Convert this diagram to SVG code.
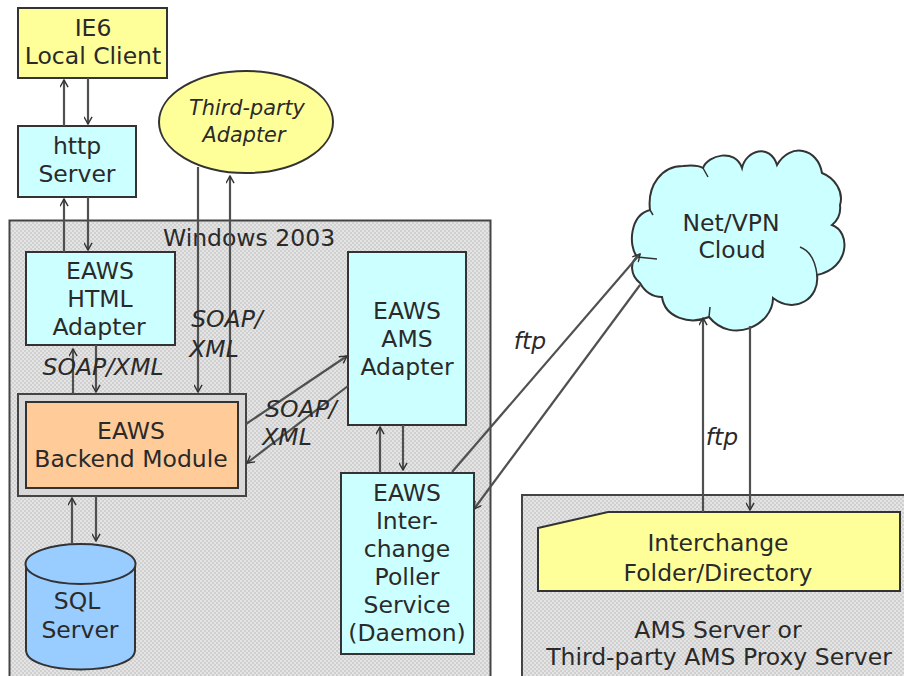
<svg xmlns="http://www.w3.org/2000/svg" width="904" height="676" viewBox="0 0 904 676">
<style>
text{font-family:"DejaVu Sans","Liberation Sans",sans-serif;font-size:23.500px;fill:#2a2a2a;text-anchor:middle}
.i{font-style:italic}
.s{font-size:20.800px}
.n{stroke:#333;stroke-width:2}
.c{fill:none;stroke:#505050;stroke-width:2.200;marker-end:url(#a)}
.p{fill:url(#d);stroke:#444;stroke-width:2}
.cy{fill:#ccffff}.ye{fill:#ffff99}
</style>
<defs>
<marker id="a" viewBox="0 0 10 10" refX="9" refY="5" markerWidth="9" markerHeight="9" orient="auto" markerUnits="userSpaceOnUse"><path d="M1,0.500 L9,5 L1,9.500" fill="none" stroke="#333" stroke-width="1.600"/></marker>
<pattern id="d" width="4" height="4" patternUnits="userSpaceOnUse"><rect width="4" height="4" fill="#d0d0d0"/><rect width="2" height="2" fill="#e4e4e4"/><rect x="2" y="2" width="2" height="2" fill="#e4e4e4"/></pattern>
</defs>
<rect width="904" height="676" fill="#fff"/>
<g id="windows"><rect class="p" x="9.500" y="220.500" width="481" height="460"/><text x="249" y="246">Windows 2003</text></g>
<g id="ams-server"><rect class="p" x="522" y="495" width="390" height="190"/><text x="718" y="638">AMS Server or</text><text x="719" y="665">Third-party AMS Proxy Server</text></g>
<g id="ie6"><rect class="n ye" x="18" y="8" width="149" height="70"/><text x="93" y="36">IE6</text><text x="93" y="64">Local Client</text></g>
<g id="http"><rect class="n cy" x="18" y="126" width="118" height="71"/><text x="77" y="154">http</text><text x="77" y="182">Server</text></g>
<g id="third-party"><ellipse class="n ye" cx="246" cy="122" rx="87" ry="51"/><text class="i s" x="247" y="115">Third-party</text><text class="i s" x="244" y="142">Adapter</text></g>
<g id="html-adapter"><rect class="n cy" x="26" y="252" width="149" height="93"/><text x="100" y="279">EAWS</text><text x="100" y="307">HTML</text><text x="99" y="335">Adapter</text></g>
<g id="backend"><rect x="18" y="394" width="228" height="102" fill="#d8d8d8" stroke="#444" stroke-width="2"/><rect class="n" x="26" y="402" width="212" height="86" fill="#ffcc99"/><text x="131" y="439">EAWS</text><text x="131" y="467">Backend Module</text></g>
<g id="sql"><path class="n" d="M26,565 V650 C26,676 135,676 135,650 V565" fill="#99ccff"/><ellipse class="n" cx="80.500" cy="564" rx="55" ry="20" fill="#99ccff"/><text x="77" y="609">SQL</text><text x="80" y="638">Server</text></g>
<g id="ams-adapter"><rect class="n cy" x="348" y="252" width="118" height="173"/><text x="407" y="319">EAWS</text><text x="407" y="347">AMS</text><text x="407" y="375">Adapter</text></g>
<g id="poller"><rect class="n cy" x="341" y="473" width="133" height="181"/><text x="407" y="501">EAWS</text><text x="407" y="529">Inter-</text><text x="407" y="557">change</text><text x="407" y="585">Poller</text><text x="407" y="613">Service</text><text x="407" y="641">(Daemon)</text></g>
<g id="cloud"><path class="n cy" stroke-width="1.500" d="M650,210 C647,185 662,166 683,166 C691,165 698,165 703,168 C708,155 735,148 742,168 C746,150 770,143 777,165 C790,142 818,148 822,173 C835,178 844,192 840,205 C841,213 838,220 832,225 C851,232 850,268 817,275 C820,298 795,315 773,298 C773,325 732,345 709,317 C690,325 665,318 662,297 C652,297 645,292 640,283 C630,275 630,262 637,257 C628,245 630,215 650,210 Z"/><path fill="none" stroke="#333" stroke-width="1.500" d="M703,168 L708,177 M800,247 C808,250 815,258 817,275 M637,257 L657,259 M709,317 L710,307 M650,210 L653,215"/><text x="731" y="231">Net/VPN</text><text x="732" y="258">Cloud</text></g>
<g id="folder"><path class="n ye" d="M538,528 L608,512 H900 V591 H538 Z"/><text x="718" y="551">Interchange</text><text x="718" y="581">Folder/Directory</text></g>
<g id="connectors">
<path class="c" d="M64,126 V80"/><path class="c" d="M88,78 V124"/>
<path class="c" d="M64,252 V199"/><path class="c" d="M88,197 V250"/>
<path class="c" d="M73,394 V349"/><path class="c" d="M96,345 V392"/>
<path class="c" d="M72,544 V498"/><path class="c" d="M96,496 V541"/>
<path class="c" d="M198,167 V392"/><path class="c" d="M230,394 V176"/>
<path class="c" d="M246,424 L347,356"/><path class="c" d="M348,386 L247,463"/>
<path class="c" d="M380,473 V427"/><path class="c" d="M403,425 V470"/>
<path class="c" d="M452,472 L640,254"/><path class="c" d="M640,285 L474,509"/>
<path class="c" d="M703,512 V318"/><path class="c" d="M750,326 V510"/>
</g>
<g id="labels">
<text class="i" x="227" y="327">SOAP/</text><text class="i" x="214" y="357">XML</text>
<text class="i" x="103" y="375">SOAP/XML</text>
<text class="i" x="301" y="417">SOAP/</text><text class="i" x="287" y="445">XML</text>
<text class="i" x="530" y="349">ftp</text><text class="i" x="722" y="445">ftp</text>
</g>
</svg>
